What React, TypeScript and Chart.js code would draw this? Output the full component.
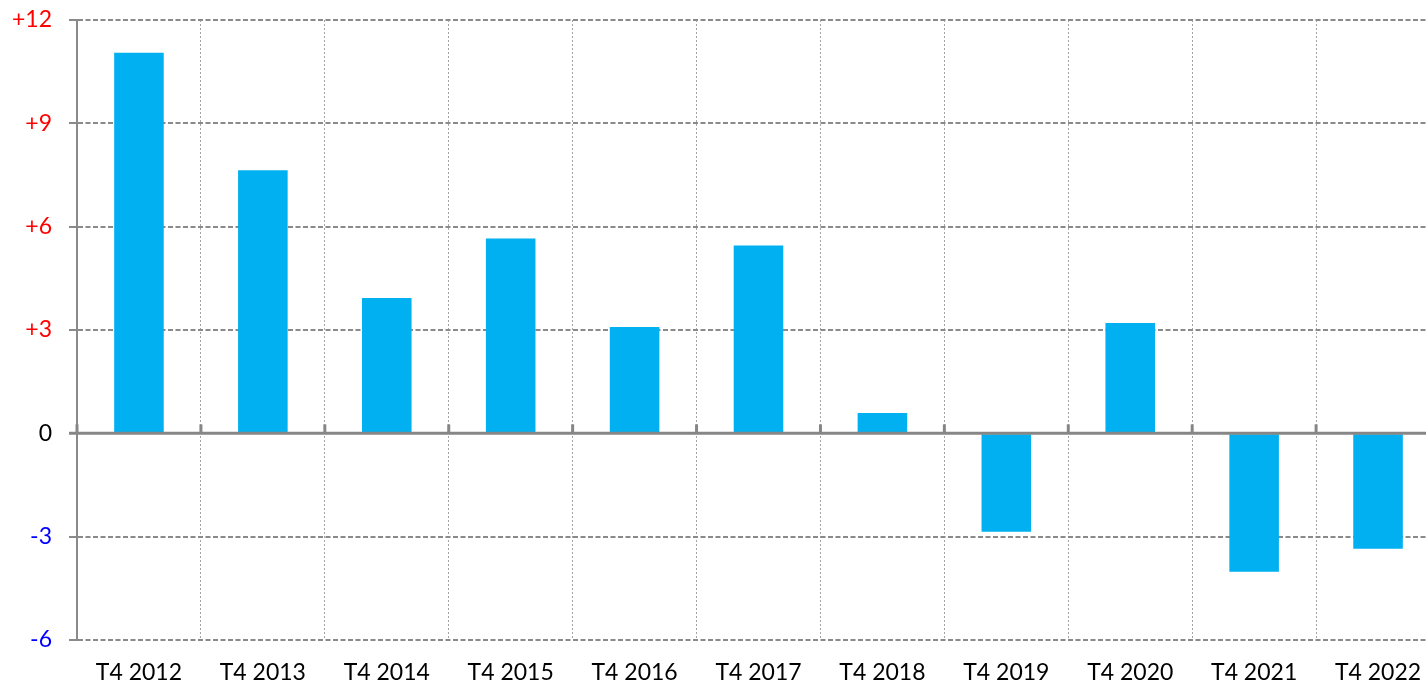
import React, { useEffect, useRef } from "react";
import { Chart, registerables } from "chart.js";

Chart.register(...registerables);

const categories = [
  "T4 2012", "T4 2013", "T4 2014", "T4 2015", "T4 2016", "T4 2017",
  "T4 2018", "T4 2019", "T4 2020", "T4 2021", "T4 2022",
];
const values = [11.05, 7.64, 3.93, 5.66, 3.09, 5.45, 0.59, -2.86, 3.2, -4.02, -3.35];
const yMin = -6;
const yMax = 12;
const yStep = 3;

const FONT = "Lato, 'Open Sans', sans-serif";
const GRID = "#8a8a8a";

const zeroAxisPlugin = {
  id: "zeroAxis",
  afterDatasetsDraw(chart: any) {
    const { ctx, chartArea, scales } = chart;
    const x = scales.x;
    const y = scales.y;
    const y0 = y.getPixelForValue(0);
    ctx.save();
    ctx.strokeStyle = "#868686";
    ctx.lineWidth = 3;
    ctx.setLineDash([]);
    ctx.beginPath();
    ctx.moveTo(chartArea.left - 8, y0);
    ctx.lineTo(chartArea.right, y0);
    ctx.stroke();
    const n = categories.length;
    const half = (x.getPixelForValue(1) - x.getPixelForValue(0)) / 2;
    ctx.lineWidth = 3;
    for (let i = 0; i <= n; i++) {
      const px = x.getPixelForValue(i) - half;
      ctx.beginPath();
      ctx.moveTo(px, y0 - 9);
      ctx.lineTo(px, y0);
      ctx.stroke();
    }
    ctx.restore();
  },
};

export default function App() {
  const ref = useRef<HTMLCanvasElement | null>(null);
  useEffect(() => {
    if (!ref.current) return;
    const chart = new Chart(ref.current, {
      type: "bar",
      data: {
        labels: categories,
        datasets: [
          {
            data: values,
            backgroundColor: "#00B0F0",
            borderWidth: 0,
            barPercentage: 0.4,
            categoryPercentage: 1,
          },
        ],
      },
      options: {
        animation: false,
        responsive: true,
        maintainAspectRatio: false,
        layout: { padding: { top: 20, right: 2, left: 0, bottom: 0 } },
        plugins: { legend: { display: false }, tooltip: { enabled: false } },
        scales: {
          x: {
            offset: true,
            grid: {
              display: true,
              offset: true,
              drawTicks: false,
              color: "#a4a4a4",
              lineWidth: 1,
            },
            border: { display: false, dash: [2, 2] },
            ticks: {
              color: "#000",
              padding: 19,
              font: { family: FONT, size: 23 },
              maxRotation: 0,
              autoSkip: false,
            },
            afterFit: (s: any) => {
              s.height = 45;
              s.paddingLeft = 0;
              s.paddingRight = 0;
            },
          },
          y: {
            min: yMin,
            max: yMax,
            grid: {
              color: GRID,
              lineWidth: 2,
              tickLength: 8,
              tickColor: GRID,
              tickWidth: 2,
              tickBorderDash: [],
            },
            border: {
              display: true,
              color: GRID,
              width: 2,
              dash: [5, 2.5],
            },
            ticks: {
              stepSize: yStep,
              padding: 17,
              font: { family: FONT, size: 23 },
              color: (c: any) =>
                c.tick.value > 0 ? "#FF0000" : c.tick.value < 0 ? "#0000FF" : "#000000",
              callback: (v: any) => (Number(v) > 0 ? "+" + v : String(v)),
            },
            afterFit: (s: any) => {
              s.width = 77;
              s.paddingTop = 0;
              s.paddingBottom = 0;
            },
          },
        },
      },
      plugins: [zeroAxisPlugin],
    });
    return () => chart.destroy();
  }, []);
  return (
    <div
      style={{
        position: "absolute",
        left: 0,
        top: 0,
        width: 1426,
        height: 685,
        overflow: "hidden",
        background: "#fff",
      }}
    >
      <div style={{ position: "relative", width: 1442, height: 685 }}>
        <canvas ref={ref} />
      </div>
    </div>
  );
}
